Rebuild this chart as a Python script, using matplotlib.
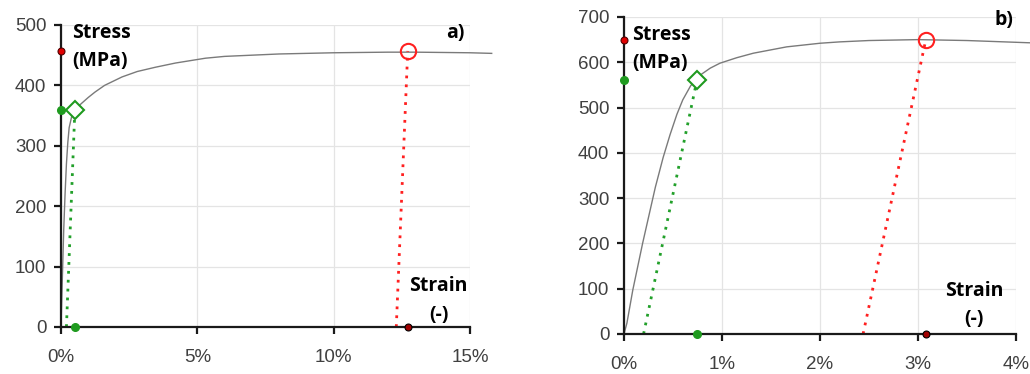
import matplotlib.pyplot as plt
from matplotlib.ticker import FuncFormatter

plt.rcParams['font.family'] = ['Liberation Sans', 'DejaVu Sans']

# panel a) stress-strain curve (strain in %, stress in MPa)
strain_a = [0, 0.05, 0.1, 0.15, 0.2, 0.25, 0.3, 0.4, 0.5, 0.7, 1.0, 1.25, 1.6, 2.24, 2.8, 3.46, 4.2, 5.3, 6, 7, 8, 10, 12, 13, 15, 15.8]
stress_a = [0, 80, 160, 220, 270, 305, 330, 350, 360, 368, 380, 389, 400, 414, 423, 430, 437, 445, 448, 450, 452, 454, 455, 455, 454, 453]
yield_a = (0.51, 360)
offset_a = [0.2, 0.51]
uts_a = (12.72, 457)
unload_a = [12.3, 12.72]

# panel b)
strain_b = [0, 0.03, 0.09, 0.19, 0.32, 0.4, 0.47, 0.54, 0.60, 0.68, 0.78, 0.88, 0.98, 1.15, 1.32, 1.66, 2.0, 2.2, 2.5, 3.0, 3.5, 4.14]
stress_b = [0, 24, 97, 200, 324, 390, 440, 485, 517, 548, 572, 587, 598, 610, 620, 634, 642, 645, 648, 650, 648, 643]
yield_b = (0.745, 561)
offset_b = [0.2, 0.745]
uts_b = (3.08, 650)
unload_b = [2.44, 3.08]

fig = plt.figure(figsize=(10.3, 3.74), dpi=100)
ax_a = fig.add_axes([0.0592, 0.1257, 0.397, 0.8075])
ax_b = fig.add_axes([0.6058, 0.107, 0.3806, 0.8476])

tick_col = '#404040'
bold_font = ['Open Sans', 'DejaVu Sans']


def draw_panel(ax, strain, stress, yld, offset, uts, unload, xmax, xstep, ymax, ystep):
    ax.plot(strain, stress, color='#7a7a7a', lw=1.0, clip_on=False, zorder=3)
    # 0.2% offset line and unloading line
    ax.plot(offset, [0, yld[1]], color='#22a02a', lw=2, ls=(0, (1, 2.2)), zorder=4)
    ax.plot(unload, [0, uts[1]], color='#ff2020', lw=2, ls=(0, (1, 2.2)), zorder=4)
    # yield point
    ax.plot(yld[0], yld[1], marker='D', ms=9, mfc='white', mec='#1f9a1f', mew=1.5, zorder=6)
    ax.plot(0, yld[1], 'o', ms=5.5, color='#1f9a1f', clip_on=False, zorder=7)
    ax.plot(yld[0], 0, 'o', ms=5.5, color='#1f9a1f', clip_on=False, zorder=7)
    # ultimate strength
    ax.plot(uts[0], uts[1], marker='o', ms=11, mfc='none', mec='#ff2020', mew=1.5, zorder=6)
    ax.plot(0, uts[1], 'o', ms=5, mfc='#e00000', mec='#500000', mew=0.8, clip_on=False, zorder=7)
    ax.plot(uts[0], 0, 'o', ms=5, mfc='#a00000', mec='black', mew=0.8, clip_on=False, zorder=7)

    ax.set_xlim(0, xmax)
    ax.set_ylim(0, ymax)
    ax.set_xticks([i * xstep for i in range(int(round(xmax / xstep)) + 1)])
    ax.set_yticks(range(0, ymax + 1, ystep))
    ax.xaxis.set_major_formatter(FuncFormatter(lambda v, p: '%d%%' % round(v)))
    ax.grid(True, color='#e4e4e4', lw=0.9)
    ax.set_axisbelow(True)
    for s in ['top', 'right']:
        ax.spines[s].set_visible(False)
    for s in ['left', 'bottom']:
        ax.spines[s].set_linewidth(1.6)
        ax.spines[s].set_color('#1a1a1a')
        ax.spines[s].set_zorder(5)
    ax.tick_params(direction='out', length=5, width=1.6, color='#1a1a1a',
                   labelsize=13.5, labelcolor=tick_col)
    ax.tick_params(axis='y', pad=5.5)
    ax.tick_params(axis='x', pad=11)


draw_panel(ax_a, strain_a, stress_a, yield_a, offset_a, uts_a, unload_a, 15, 5, 500, 100)
draw_panel(ax_b, strain_b, stress_b, yield_b, offset_b, uts_b, unload_b, 4, 1, 700, 100)

lbl = dict(fontsize=14, fontweight='bold', family=bold_font, linespacing=1.55)
ax_a.text(0.40, 503, 'Stress\n(MPa)', ha='left', va='top', zorder=8, **lbl)
ax_a.text(14.8, 503, 'a)', ha='right', va='top', **lbl)
ax_a.text(13.85, 84, 'Strain\n(-)', ha='center', va='top', **lbl)

ax_b.text(0.08, 683, 'Stress\n(MPa)', ha='left', va='top', zorder=8, **lbl)
ax_b.text(3.97, 715, 'b)', ha='right', va='top', **lbl)
ax_b.text(3.57, 117, 'Strain\n(-)', ha='center', va='top', **lbl)

fig.savefig('out.png', dpi=100)
